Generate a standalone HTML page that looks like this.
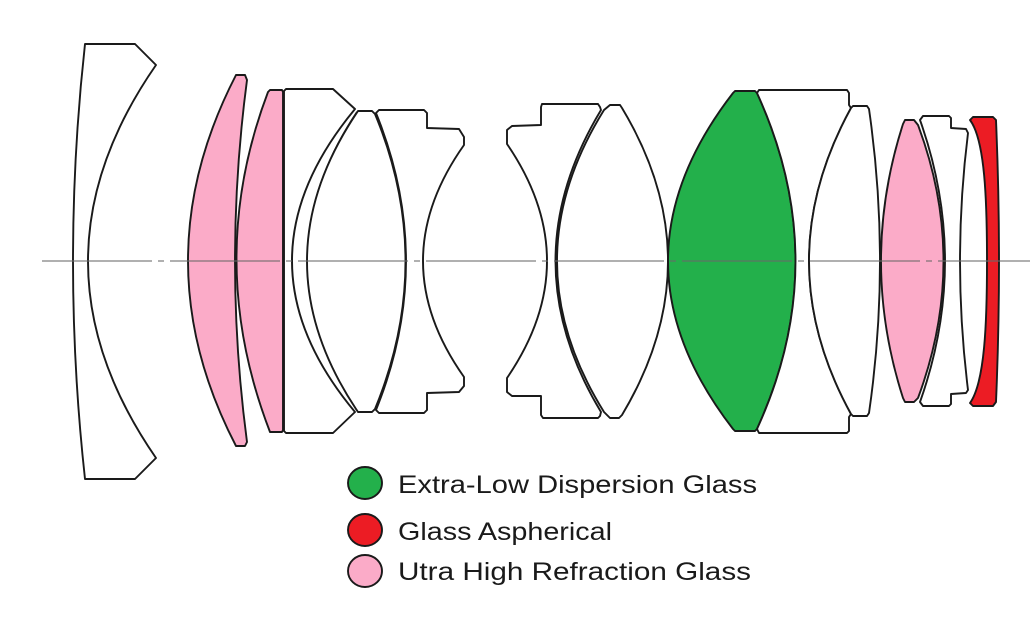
<!DOCTYPE html>
<html><head><meta charset="utf-8"><style>
html,body{margin:0;padding:0;background:#fff;}
svg{display:block;}
</style></head><body>
<svg width="1030" height="632" viewBox="0 0 1030 632" xmlns="http://www.w3.org/2000/svg">
<rect width="1030" height="632" fill="#fff"/>
<g stroke="#1a1a1a" stroke-width="1.9" fill="#fff" stroke-linejoin="round">
<path d="M85,44 L135,44 L156,65 Q20,261 156,458 L135,479 L85,479 Q61,261 85,44 Z"/>
<path fill="#fbabc8" d="M236,75 L245,75 L247,80 Q223,261 247,442 L245,446 L236,446 Q140,261 236,75 Z"/>
<path fill="#fbabc8" d="M270,90 L282,90 L283,92 L283,430 L282,432 L270,432 Q204,261 268,92 Z"/>
<path d="M286,89 L333,89 L355,109 Q229,261 355,412 L333,433 L286,433 L284,431 L284,91 Z"/>
<path fill="none" d="M357,112 Q258,261 357,410"/>
<path d="M358,111 L372,111 L375,114 Q436,261 375,409 L372,412 L358,412 L356,409 Q258,261 356,114 Z"/>
<path d="M379,110 L424,110 L427,113 L427,128 L459,129 L464,137 L464,145 Q382,261 464,377 L464,386 L459,392 L427,393 L427,410 L424,413 L379,413 L376,410 Q436,261 376,113 Z"/>
<path d="M542,104 L598,104 L600,107 L601,110 Q510,261 601,412 L600,416 L598,418 L543,418 L541,415 L541,396 L512,396 L507,392 L507,378 Q587,261 507,144 L507,130 L512,126 L541,125 L541,107 Z"/>
<path d="M610,105 L620,105 L622,108 Q714,261 622,415 L619,418 L610,418 L604,412 Q510,261 604,110 Z"/>
<path fill="#23b04b" d="M735,91 L755,91 L757,93 Q834,261 757,429 L755,431 L735,431 L733,429 Q603,261 733,93 Z"/>
<path d="M759,90 L847,90 L849,93 L849,105 L851,108 Q767,261 851,414 L849,417 L849,431 L847,433 L759,433 L757,429 Q834,261 757,93 Z"/>
<path d="M853,106 L867,106 L869,109 Q891,261 869,413 L867,416 L853,416 L851,414 Q767,261 851,108 Z"/>
<path fill="#fbabc8" d="M905,120 L914,120 L918,125 Q969,261 918,398 L914,402 L905,402 L903,398 Q859,261 903,124 Z"/>
<path d="M923,116 L949,116 L951,118 L951,128 L966,129 L968,133 Q952,261 968,390 L966,393 L951,394 L951,404 L949,406 L923,406 L920,402 Q970,261 920,120 Z"/>
<path fill="#ec1c24" d="M973,117 L993,117 L996,120 Q1002,261 996,402 L993,406 L973,406 L970,403 C985,382 987,322 987,261 C987,200 985,140 970,120 Z"/>
</g>
<line x1="42" y1="261" x2="1030" y2="261" stroke="#6a6a6a" stroke-width="1.2" stroke-dasharray="110 6 6 6" opacity="0.85"/>
<g stroke="#1a1a1a" stroke-width="1.9">
<ellipse cx="365" cy="483" rx="17" ry="16" fill="#23b04b"/>
<ellipse cx="365" cy="530" rx="17" ry="16" fill="#ec1c24"/>
<ellipse cx="365" cy="571" rx="17" ry="16" fill="#fbabc8"/>
</g>
<g font-family="Liberation Sans, sans-serif" font-size="25" fill="#1a1a1a">
<text x="398" y="493" textLength="359" lengthAdjust="spacingAndGlyphs">Extra-Low Dispersion Glass</text>
<text x="398" y="540" textLength="214" lengthAdjust="spacingAndGlyphs">Glass Aspherical</text>
<text x="398" y="580" textLength="353" lengthAdjust="spacingAndGlyphs">Utra High Refraction Glass</text>
</g>
</svg>
</body></html>
